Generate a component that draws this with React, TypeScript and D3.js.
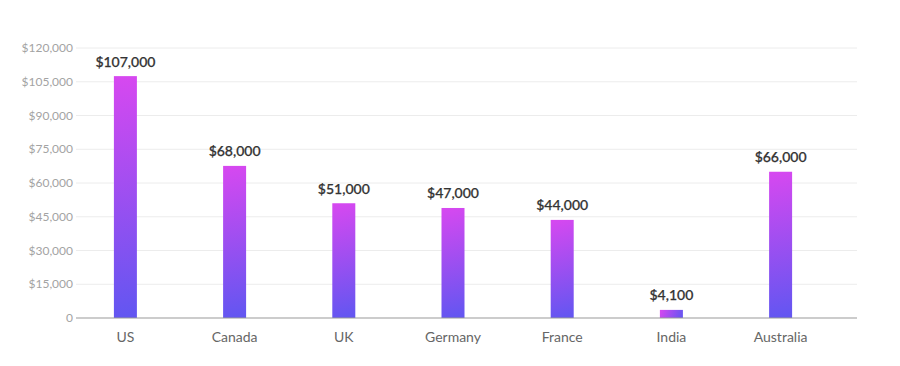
import React from "react";
import * as d3 from "d3";

const categories = ["US", "Canada", "UK", "Germany", "France", "India", "Australia"];
const barValues = [107500, 67600, 51000, 48900, 43600, 3600, 65000];
const valueLabels = ["$107,000", "$68,000", "$51,000", "$47,000", "$44,000", "$4,100", "$66,000"];
const yTicks = [0, 15000, 30000, 45000, 60000, 75000, 90000, 105000, 120000];

const W = 900;
const H = 366;
const plotLeft = 76;
const plotRight = 857;
const plotTop = 48;
const plotBottom = 318;

export default function App() {
  const y = d3.scaleLinear().domain([0, 120000]).range([plotBottom, plotTop]);
  const x = d3.scaleBand<string>().domain(categories).range([70.8, 835.2]).padding(0);
  const barW = 23;
  const fmt = (v: number) => (v === 0 ? "0" : "$" + d3.format(",")(v));
  const font = "Lato, 'Open Sans', sans-serif";

  return (
    <svg
      width={W}
      height={H}
      style={{ position: "absolute", left: 0, top: 0, display: "block", background: "#fff" }}
    >
      <defs>
        {categories.map((c, i) => {
          const cx = (x(c) as number) + x.bandwidth() / 2;
          const x0 = cx - barW / 2;
          const y0 = y(barValues[i]);
          return (
            <linearGradient
              key={c}
              id={`grad-${i}`}
              gradientUnits="userSpaceOnUse"
              x1={x0}
              y1={y0}
              x2={x0 + barW}
              y2={plotBottom}
            >
              <stop offset="0%" stopColor="#d748f0" />
              <stop offset="100%" stopColor="#6156f1" />
            </linearGradient>
          );
        })}
      </defs>

      {yTicks.map((t) =>
        t === 0 ? null : (
          <line
            key={t}
            x1={plotLeft}
            x2={plotRight}
            y1={y(t)}
            y2={y(t)}
            stroke="#ececec"
            strokeWidth={1}
          />
        )
      )}

      {yTicks.map((t) => (
        <text
          key={"yl" + t}
          x={73}
          y={y(t)}
          dy="0.35em"
          textAnchor="end"
          fontFamily={font}
          fontSize={12}
          fill="#a3a3a3"
        >
          {fmt(t)}
        </text>
      ))}

      {categories.map((c, i) => {
        const cx = (x(c) as number) + x.bandwidth() / 2;
        const top = y(barValues[i]);
        return (
          <rect
            key={"b" + c}
            x={cx - barW / 2}
            y={top}
            width={barW}
            height={plotBottom - top}
            fill={`url(#grad-${i})`}
          />
        );
      })}

      <line x1={plotLeft} x2={plotRight} y1={plotBottom} y2={plotBottom} stroke="#999" strokeWidth={1} />

      {categories.map((c, i) => {
        const cx = (x(c) as number) + x.bandwidth() / 2;
        return (
          <text
            key={"vl" + c}
            x={cx}
            y={y(barValues[i]) - 9.5}
            textAnchor="middle"
            fontFamily={font}
            fontSize={14}
            fontWeight={500}
            fill="#333"
            stroke="#333"
            strokeWidth={0.25}
          >
            {valueLabels[i]}
          </text>
        );
      })}

      {categories.map((c) => {
        const cx = (x(c) as number) + x.bandwidth() / 2;
        return (
          <text
            key={"xl" + c}
            x={cx}
            y={342}
            textAnchor="middle"
            fontFamily={font}
            fontSize={14}
            fill="#666"
          >
            {c}
          </text>
        );
      })}
    </svg>
  );
}
